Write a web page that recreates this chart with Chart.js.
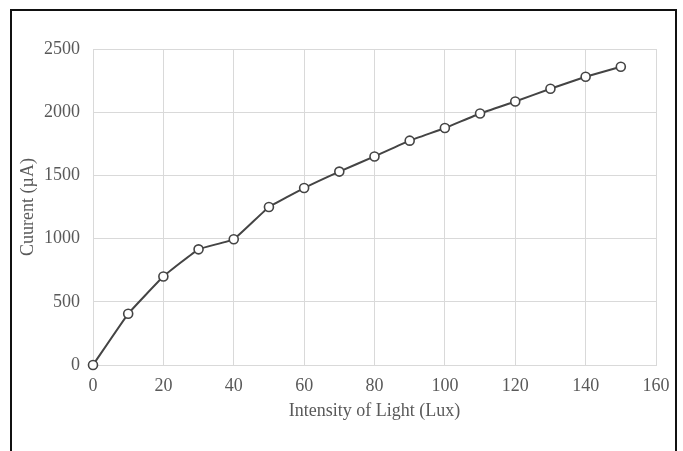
<!DOCTYPE html>
<html>
<head>
<meta charset="utf-8">
<script src="https://cdn.jsdelivr.net/npm/chart.js@4/dist/chart.umd.min.js"></script>
<style>
  html, body { margin: 0; padding: 0; background: #fff; }
  #wrap { position: relative; width: 683px; height: 451px; overflow: hidden; }
  #frame { position: absolute; left: 10px; top: 9px; width: 667px; height: 460px;
           border: 2px solid #111; border-bottom: none; box-sizing: border-box; pointer-events: none; }
  canvas { position: absolute; left: 0; top: 0; }
</style>
</head>
<body>
<div id="wrap">
  <canvas id="c" width="683" height="451"></canvas>
  <div id="frame"></div>
</div>
<script>
const lightIntensity = [0, 10, 20, 30, 40, 50, 60, 70, 80, 90, 100, 110, 120, 130, 140, 150];
const currentValues  = [0, 405, 700, 915, 995, 1250, 1400, 1530, 1650, 1775, 1875, 1990, 2085, 2185, 2280, 2360];
const xAxisTitle = 'Intensity of Light (Lux)';
const yAxisTitle = 'Cuurent (\u00B5A)';

const points = lightIntensity.map((x, i) => ({ x: x, y: currentValues[i] }));

const textColor = '#595959';
const gridColor = '#d9d9d9';
const fontSpec = { family: "'Liberation Serif', 'Times New Roman', serif", size: 18 };

new Chart(document.getElementById('c'), {
  type: 'line',
  data: {
    datasets: [{
      data: points,
      borderColor: '#444444',
      borderWidth: 2,
      tension: 0.1,
      clip: false,
      pointRadius: 4.5,
      pointBorderWidth: 1.6,
      pointBackgroundColor: '#ffffff',
      pointBorderColor: '#444444',
      fill: false
    }]
  },
  options: {
    responsive: false,
    animation: false,
    layout: { padding: { left: 17, top: 49, right: 27, bottom: 26 } },
    plugins: { legend: { display: false }, tooltip: { enabled: false } },
    scales: {
      x: {
        type: 'linear',
        min: 0, max: 160,
        ticks: { stepSize: 20, color: textColor, font: fontSpec, padding: 10, maxRotation: 0,
                 callback: (v) => String(v) },
        grid: { color: gridColor, drawTicks: false },
        border: { color: gridColor },
        title: { display: true, text: xAxisTitle, color: textColor, font: fontSpec, padding: { top: 0, bottom: 3 } },
        afterFit: (s) => { s.height = 60; }
      },
      y: {
        min: 0, max: 2500,
        ticks: { stepSize: 500, color: textColor, font: fontSpec, padding: 13,
                 callback: (v) => String(v) },
        grid: { color: gridColor, drawTicks: false },
        border: { color: gridColor },
        title: { display: true, text: yAxisTitle, color: textColor, font: fontSpec, padding: { top: 0, bottom: 0 } },
        afterFit: (s) => { s.width = 76; }
      }
    }
  }
});
</script>
</body>
</html>
